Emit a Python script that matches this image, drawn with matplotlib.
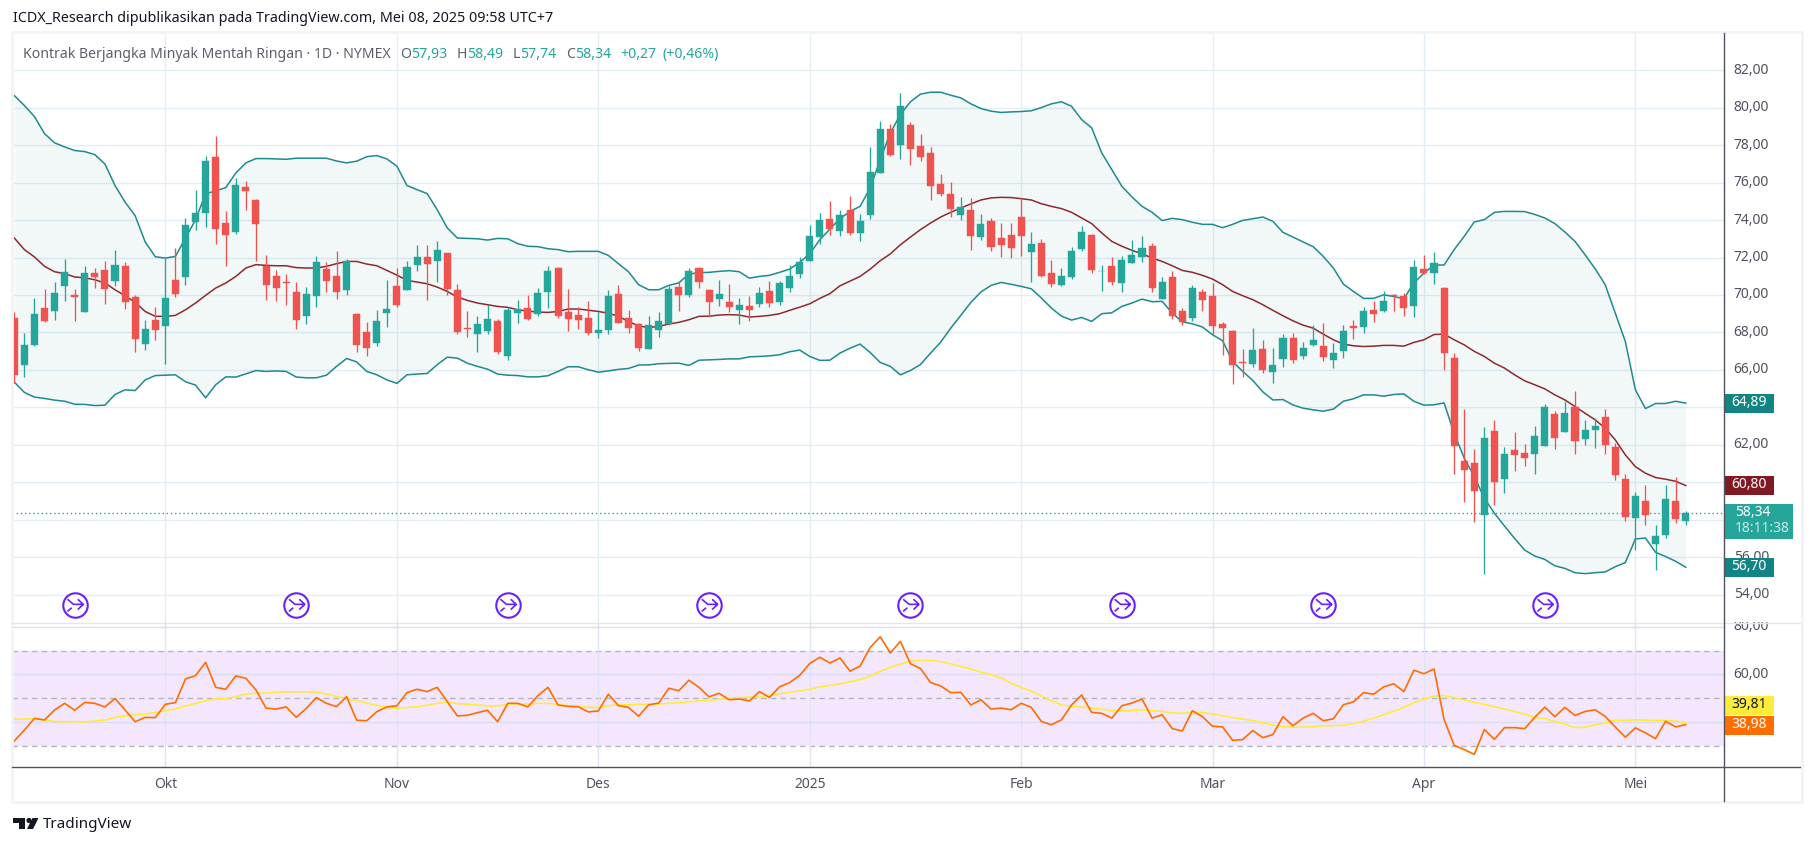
import matplotlib
matplotlib.use("Agg")
import matplotlib.pyplot as plt
from matplotlib.lines import Line2D
from matplotlib.patches import Rectangle, Circle, Polygon
from matplotlib.path import Path
from matplotlib.transforms import Bbox, ScaledTranslation

opens = [68.77,66.27,67.34,69.30,69.16,70.49,70.01,69.11,71.17,71.35,
         70.76,71.56,69.89,67.40,68.66,68.36,70.80,70.98,73.91,74.39,
         77.37,73.84,73.38,75.76,75.07,71.56,71.01,70.71,70.16,68.89,
         69.96,71.38,71.01,70.28,68.98,68.02,67.45,69.05,70.48,70.28,
         71.62,72.03,71.83,72.24,70.28,68.22,67.93,68.09,68.62,66.75,
         69.05,69.32,69.00,70.17,71.46,69.11,68.95,68.78,67.98,68.14,
         70.07,68.78,68.46,67.13,68.14,68.46,70.44,70.01,71.46,70.28,
         69.80,69.64,69.21,69.43,69.53,70.23,69.64,70.39,71.14,71.83,
         73.11,74.07,73.43,74.55,73.33,74.29,76.53,78.88,78.03,79.09,
         77.97,77.60,75.94,75.41,74.29,74.55,73.11,73.97,73.06,73.22,
         74.18,72.31,72.79,71.19,70.55,70.98,72.47,73.22,71.26,71.56,
         70.65,71.72,72.04,72.63,69.80,70.98,69.16,68.78,70.17,69.96,
         68.46,68.09,66.43,66.33,67.13,65.90,66.59,67.72,66.75,67.32,
         67.29,66.54,67.02,68.36,68.30,69.21,69.16,70.01,69.96,69.43,
         71.40,71.19,70.39,66.65,61.15,61.04,58.26,62.75,60.18,61.73,
         61.57,61.52,61.95,63.66,62.70,64.03,62.32,62.80,63.50,61.89,
         60.18,58.10,59.01,56.71,57.19,59.01,57.93]
closes = [65.74,67.34,69.00,68.62,70.10,71.22,69.87,71.17,70.98,70.33,
          71.60,69.64,67.66,68.18,68.14,69.84,70.07,73.74,74.38,77.15,
          73.54,73.22,75.87,75.57,73.81,70.55,70.39,70.66,68.68,70.05,
          71.76,70.76,70.17,71.83,67.34,67.18,68.61,69.25,69.48,71.49,
          72.03,71.67,72.40,70.33,68.04,68.16,68.46,68.73,66.97,69.21,
          69.27,68.73,70.12,71.30,68.89,68.73,68.68,67.98,68.14,69.96,
          68.52,68.25,67.18,68.41,68.62,70.33,70.01,71.30,70.71,69.64,
          70.07,69.37,69.48,69.21,70.12,69.59,70.65,71.03,71.78,73.17,
          74.02,73.54,74.29,73.33,73.97,76.58,78.88,77.49,80.11,77.81,
          77.38,75.84,75.41,74.61,74.71,73.17,73.81,72.58,72.68,72.52,
          73.17,72.74,71.03,70.60,71.03,72.36,73.38,71.35,71.30,70.71,
          71.88,72.15,72.52,70.39,70.71,68.89,68.57,70.39,69.75,68.36,
          68.25,66.27,66.38,67.08,66.01,66.27,67.72,66.54,67.18,67.61,
          66.70,66.90,68.09,68.25,69.16,69.00,69.69,69.95,69.32,71.51,
          71.19,71.72,66.92,61.95,60.67,59.54,62.37,60.02,61.52,61.47,
          61.31,62.48,64.03,62.37,63.71,62.21,62.80,63.02,62.00,60.40,
          58.15,59.28,58.26,57.14,59.12,58.05,58.34]
highs = [69.09,67.97,69.84,70.32,70.69,71.92,70.32,71.56,71.44,71.81,
         72.40,71.78,70.00,68.66,69.35,71.97,72.51,74.11,75.60,77.44,
         78.51,74.48,76.25,76.09,75.12,72.13,71.33,71.12,70.69,70.42,
         72.08,71.76,72.35,71.92,69.03,68.57,69.19,70.80,71.44,71.81,
         72.67,72.67,72.88,72.24,70.60,69.16,68.89,69.48,68.73,69.37,
         69.75,70.01,70.39,71.56,71.51,70.33,69.37,69.69,69.11,70.28,
         70.55,69.21,68.52,68.89,69.11,70.49,70.76,71.46,71.50,70.30,
         70.81,70.60,69.85,69.96,70.44,70.76,70.76,71.62,72.04,73.75,
         74.39,75.03,74.55,75.30,74.34,77.92,79.31,79.15,80.80,79.25,
         78.61,77.92,76.48,76.05,75.25,75.20,74.34,74.13,73.86,73.86,
         75.20,73.38,73.00,71.88,71.46,72.58,73.70,73.27,71.62,72.04,
         72.10,72.95,73.17,72.79,70.98,71.30,69.32,70.55,70.33,70.65,
         68.57,68.14,67.13,68.25,67.61,67.18,67.93,67.98,67.50,68.39,
         68.52,67.43,68.41,68.68,69.37,69.69,70.23,70.03,70.12,71.88,
         72.15,72.31,70.44,66.92,63.92,61.79,62.96,63.34,61.89,62.70,
         62.05,63.02,64.19,63.82,64.35,64.89,63.34,63.43,63.92,62.11,
         60.45,59.49,59.86,57.73,59.86,60.29,58.49]
lows = [65.33,65.65,67.29,68.54,68.68,69.66,68.62,69.11,70.39,69.53,
        70.49,69.27,66.97,67.08,67.61,66.33,69.89,70.55,73.49,73.65,
        72.74,71.56,73.27,74.55,71.83,69.75,69.69,69.48,68.20,68.46,
        69.37,70.17,69.80,70.01,66.97,66.75,67.29,68.30,69.37,70.28,
        71.30,69.75,70.71,70.01,67.93,67.77,66.97,67.93,66.86,66.54,
        68.52,68.68,68.89,69.32,68.78,68.09,68.20,67.88,67.72,67.93,
        68.50,67.98,67.02,67.13,67.77,68.41,69.16,69.91,70.39,68.84,
        69.43,69.11,68.46,68.62,69.37,69.37,69.48,70.17,70.92,71.80,
        72.74,73.22,73.17,73.22,72.90,74.07,76.50,77.44,77.28,76.96,
        77.17,75.09,75.30,74.18,74.02,72.42,72.95,72.36,72.04,71.99,
        72.10,70.71,70.98,70.44,70.49,70.87,72.36,71.19,70.23,70.55,
        70.17,71.70,71.78,70.17,69.78,68.73,68.41,68.62,69.16,67.93,
        66.81,65.26,65.63,66.17,65.85,65.31,66.17,66.38,66.59,67.29,
        66.49,66.11,66.65,67.66,67.98,68.57,69.11,69.16,68.89,68.84,
        71.14,70.60,66.01,60.45,58.96,57.89,55.11,58.80,59.44,60.61,
        60.88,60.45,61.93,61.79,62.68,61.52,62.00,61.84,61.52,60.13,
        57.94,56.39,57.73,55.32,57.03,57.83,57.74]

bb_upper = [80.64,80.11,79.52,78.61,78.12,77.90,77.71,77.65,77.49,76.99,
            75.84,74.96,74.23,72.83,72.04,71.97,72.06,73.04,74.02,75.41,
            75.55,75.73,76.51,77.05,77.28,77.28,77.26,77.24,77.30,77.30,
            77.30,77.30,77.15,77.05,77.14,77.38,77.44,77.26,76.87,75.84,
            75.62,75.41,74.55,73.58,73.04,73.02,73.00,72.93,73.02,73.00,
            72.74,72.60,72.58,72.47,72.42,72.31,72.33,72.33,72.33,72.11,
            71.67,71.24,70.55,70.28,70.28,70.51,70.65,71.12,71.19,71.21,
            71.26,71.30,71.24,70.90,70.99,71.05,71.21,71.38,71.74,72.20,
            72.95,73.52,74.07,74.46,74.73,75.71,77.22,78.65,79.63,80.31,
            80.72,80.82,80.82,80.66,80.52,80.20,79.95,79.81,79.74,79.77,
            79.79,79.83,80.00,80.20,80.31,80.07,79.36,78.92,77.58,76.69,
            75.80,75.23,74.73,74.41,73.97,74.09,74.02,73.88,73.77,73.77,
            73.59,73.77,73.98,74.07,74.16,73.93,73.34,73.09,72.83,72.58,
            72.06,71.44,70.58,70.19,69.82,69.82,70.01,69.92,69.80,70.64,
            71.17,71.60,71.60,72.42,73.13,73.90,74.02,74.41,74.46,74.46,
            74.45,74.30,74.11,73.81,73.36,72.86,72.15,71.40,70.55,69.03,
            67.52,64.94,63.94,64.21,64.21,64.33,64.23]
bb_basis = [73.04,72.42,72.03,71.53,71.24,71.14,70.96,70.92,70.81,70.64,
            70.28,69.96,69.60,69.12,68.86,68.86,68.91,69.21,69.57,69.98,
            70.37,70.64,70.99,71.44,71.62,71.58,71.56,71.56,71.46,71.44,
            71.44,71.53,71.67,71.79,71.79,71.65,71.56,71.31,71.06,70.78,
            70.69,70.60,70.42,70.19,69.89,69.71,69.57,69.48,69.39,69.34,
            69.21,69.14,69.09,69.07,69.12,69.25,69.25,69.19,69.12,69.03,
            68.86,68.59,68.34,68.27,68.32,68.45,68.54,68.68,68.86,68.87,
            68.93,68.95,68.93,68.82,68.86,68.91,69.00,69.18,69.35,69.53,
            69.82,70.07,70.49,70.74,70.99,71.38,71.83,72.19,72.68,73.09,
            73.49,73.84,74.16,74.41,74.64,74.86,75.07,75.18,75.21,75.20,
            75.14,75.07,74.87,74.73,74.61,74.41,74.11,73.81,73.31,72.86,
            72.60,72.38,72.20,71.97,71.79,71.56,71.31,71.21,71.05,70.85,
            70.55,70.19,69.96,69.75,69.48,69.18,68.89,68.62,68.39,68.23,
            67.91,67.61,67.38,67.29,67.25,67.27,67.31,67.31,67.27,67.47,
            67.61,67.89,67.91,67.61,67.34,66.99,66.72,66.36,66.10,65.74,
            65.42,65.21,64.99,64.67,64.40,64.05,63.69,63.34,62.89,62.27,
            61.47,60.84,60.49,60.26,60.17,60.06,59.83]
bb_lower = [65.35,64.80,64.55,64.48,64.39,64.33,64.17,64.16,64.10,64.12,
            64.69,64.94,64.90,65.47,65.70,65.72,65.74,65.37,65.19,64.51,
            65.21,65.63,65.62,65.79,65.97,65.92,65.95,65.92,65.62,65.58,
            65.58,65.72,66.19,66.61,66.43,65.92,65.74,65.47,65.28,65.74,
            65.78,65.81,66.28,66.68,66.63,66.36,66.19,66.04,65.78,65.72,
            65.70,65.63,65.63,65.69,65.92,66.17,66.17,66.01,65.88,65.95,
            66.03,66.08,66.26,66.27,66.33,66.35,66.36,66.24,66.52,66.54,
            66.56,66.59,66.59,66.70,66.72,66.75,66.81,66.97,67.06,66.72,
            66.51,66.52,66.90,67.16,67.38,66.93,66.40,66.19,65.74,65.97,
            66.29,66.90,67.48,68.23,68.91,69.60,70.16,70.51,70.67,70.57,
            70.46,70.33,69.84,69.30,68.87,68.66,68.80,68.59,69.00,69.05,
            69.39,69.57,69.78,69.64,69.66,69.03,68.57,68.46,68.29,67.88,
            67.56,66.45,65.92,65.44,64.83,64.40,64.42,64.13,63.96,63.87,
            63.80,63.91,64.33,64.46,64.67,64.67,64.60,64.69,64.72,64.33,
            64.12,64.14,64.24,62.62,61.29,60.31,59.15,58.35,57.67,57.01,
            56.39,56.07,55.89,55.55,55.41,55.18,55.13,55.18,55.22,55.50,
            55.72,56.98,57.03,56.27,56.04,55.79,55.47]

rsi = [32.1,36.7,41.6,40.9,45.1,47.9,45.0,48.3,47.9,46.4,
       49.9,45.1,40.2,42.0,41.9,47.5,48.2,58.1,59.5,65.1,
       54.6,53.8,59.4,58.4,53.5,45.9,45.5,46.4,42.0,45.8,
       50.3,47.9,46.5,50.7,40.8,40.6,44.4,46.4,46.9,52.4,
       53.8,52.8,54.6,48.6,42.6,42.9,44.0,45.0,40.2,47.9,
       47.9,46.4,51.1,54.6,47.2,46.6,46.5,44.3,44.7,51.7,
       46.9,46.2,42.5,47.3,48.0,54.2,53.2,57.6,54.6,50.6,
       52.1,49.4,49.7,48.9,52.8,50.4,54.8,56.6,59.6,64.6,
       67.2,64.8,66.9,61.4,63.5,71.3,75.8,69.0,73.9,64.5,
       62.5,56.6,55.2,52.4,52.5,47.2,49.4,45.5,45.9,45.2,
       47.9,46.2,40.3,38.9,41.0,47.2,51.4,44.1,43.7,41.7,
       46.9,48.0,49.7,41.7,43.1,37.3,36.3,44.8,42.3,38.3,
       38.0,32.4,32.7,36.5,33.5,34.8,42.3,38.5,41.7,43.7,
       40.6,41.4,47.3,48.5,52.4,51.7,54.8,56.1,52.8,61.8,
       60.3,62.3,41.1,30.3,28.5,26.5,36.9,32.8,37.7,37.7,
       37.3,42.0,46.3,42.3,46.2,42.8,44.5,45.2,42.4,38.0,
       33.7,37.6,35.5,33.1,40.4,38.0,38.98]
rsi_ma = [41.2,41.3,41.5,40.9,40.3,40.2,40.2,40.1,40.5,40.9,
          42.0,42.6,43.1,43.4,44.1,44.8,45.5,46.8,47.9,49.0,
          49.7,49.9,50.7,51.7,52.1,52.2,52.5,52.7,52.7,52.7,
          52.7,51.8,50.8,49.9,49.0,48.0,47.1,46.2,45.8,46.1,
          46.5,47.1,47.9,48.3,47.8,47.5,47.2,46.8,46.8,47.5,
          47.6,47.6,47.9,47.9,47.5,46.9,46.6,46.2,46.2,46.9,
          47.2,47.3,47.5,47.5,47.6,47.9,48.2,48.5,48.9,49.2,
          49.6,50.0,50.3,50.5,50.6,51.3,51.9,52.5,53.1,53.8,
          54.8,55.4,56.1,56.9,57.9,59.4,61.3,63.0,64.4,65.5,
          65.9,65.8,65.4,64.5,63.4,62.3,61.0,59.9,58.5,56.3,
          54.6,53.0,51.0,49.0,47.2,46.6,46.3,45.9,45.4,44.9,
          44.8,44.9,45.1,44.8,44.5,43.9,43.7,44.1,44.1,43.4,
          42.7,42.0,41.3,40.7,39.7,38.7,38.2,37.9,37.9,38.2,
          38.5,38.5,38.7,39.4,40.4,41.7,43.2,44.6,46.2,48.2,
          49.7,51.0,51.1,50.3,49.3,48.3,47.5,46.5,45.5,44.5,
          43.4,42.0,41.5,40.3,39.2,37.7,37.9,38.9,39.7,40.8,
          40.7,41.0,40.8,40.7,40.7,40.4,39.81]

month_idx = [15, 38, 58, 79, 100, 119, 140, 161]
month_labels = ["Okt", "Nov", "Des", "2025", "Feb", "Mar", "Apr", "Mei"]
event_idx = [6, 28, 49, 69, 89, 110, 130, 152]
price_ticks = list(range(54, 84, 2))
price_hidden = [64, 60, 58]
rsi_ticks = [80, 60, 40]
rsi_hidden = [40]
header_vals = [("O", "57,93", 400, 411), ("H", "58,49", 456.5, 467),
               ("L", "57,74", 512.5, 520), ("C", "58,34", 566, 575)]

W, H = 1814, 846
GREEN = "#26a69a"
RED = "#ef5350"
GRID = "#e3edf4"
AXIS = "#50535e"
TEAL = "#138484"
MAROON = "#801922"
plt.rcParams["font.family"] = ["Noto Sans", "DejaVu Sans"]
plt.rcParams["font.size"] = 10


def fx(x):
    return x / W


def fy(y):
    return 1 - y / H


def add_axes_px(x0, y0, x1, y1):
    return fig.add_axes([fx(x0), fy(y1), (x1 - x0) / W, (y1 - y0) / H])


def line_px(x0, y0, x1, y1, color, lw=1.0):
    fig.add_artist(Line2D([fx(x0), fx(x1)], [fy(y0), fy(y1)], color=color, lw=lw,
                          transform=fig.transFigure))


def text_px(x, y, s, **kw):
    fig.text(fx(x), fy(y), s, va="center", **kw)


def box_px(x0, y0, x1, y1, color):
    fig.add_artist(Rectangle((fx(x0), fy(y1)), (x1 - x0) / W, (y1 - y0) / H, fc=color, ec="none",
                             transform=fig.transFigure))


def value_label(a, value, text, bg, fg="white", shift=0):
    y = H - a.transData.transform((0, value))[1] + shift
    box_px(1724, y - 9.5, 1774, y + 9.5, bg)
    text_px(1749, y - 1, text, ha="center", color=fg, fontsize=10)


def raise_labels(a, px):
    for lab in a.get_yticklabels():
        lab.set_transform(lab.get_transform() + ScaledTranslation(0, px / 100, fig.dpi_scale_trans))


fig = plt.figure(figsize=(W / 100, H / 100), dpi=100, facecolor="white")
ax = add_axes_px(12, 33, 1724, 622)
ax_rsi = add_axes_px(12, 622, 1724, 767)

x_left = -0.23
x_right = 169.8
idx = list(range(len(closes)))

# harga
ax.set_xlim(x_left, x_right)
ax.set_ylim(52.55, 83.98)
ax.set_axisbelow(True)
ax.grid(True, color=GRID, lw=1.0)
ax.set_xticks(month_idx)
ax.set_yticks(price_ticks)
ax.set_yticklabels(["" if p in price_hidden else f"{p},00" for p in price_ticks])
ax.yaxis.tick_right()
ax.tick_params(length=0, labelbottom=False, labelcolor=AXIS, pad=7)
raise_labels(ax, 2)

ax.fill_between(idx, bb_lower, bb_upper, color="#138484", alpha=0.05, lw=0)
ax.plot(idx, bb_upper, color="#1f8a8c", lw=1.1)
ax.plot(idx, bb_lower, color="#1f8a8c", lw=1.1)
ax.plot(idx, bb_basis, color="#8c2a2e", lw=1.1)
ax.axhline(closes[-1], color=GREEN, lw=1.0, ls=(0, (1, 2)))

colors = [GREEN if c >= o else RED for o, c in zip(opens, closes)]
ax.vlines(idx, lows, highs, colors=colors, lw=0.95, zorder=3)
ax.bar(idx, [abs(c - o) for o, c in zip(opens, closes)], bottom=[min(o, c) for o, c in zip(opens, closes)],
       width=0.7, color=colors, edgecolor=colors, lw=0.3, zorder=4)

event_y = [53.44] * len(event_idx)
ax.scatter(event_idx, event_y, s=310, facecolors="white", edgecolors="#6a1fff", lw=1.5, zorder=5)
icon = Path([(-0.6, 0.5), (-0.1, 0.08), (0.7, 0.08), (0.25, 0.5), (0.7, 0.08), (0.25, -0.35),
             (-0.6, -0.5), (-0.25, -0.2)],
            [Path.MOVETO, Path.LINETO, Path.LINETO, Path.MOVETO, Path.LINETO, Path.LINETO,
             Path.MOVETO, Path.LINETO])
ax.scatter(event_idx, event_y, marker=icon, s=150, facecolors="none", edgecolors="#6a1fff", lw=1.2, zorder=6)

# RSI
ax_rsi.set_xlim(x_left, x_right)
ax_rsi.set_ylim(21.2, 82.0)
ax_rsi.axhspan(30, 70, color="#f4e7fd", lw=0, zorder=0)
ax_rsi.set_axisbelow(False)
ax_rsi.set_xticks(month_idx)
ax_rsi.yaxis.tick_right()
ax_rsi.set_yticks(rsi_ticks)
ax_rsi.set_yticklabels(["" if r in rsi_hidden else f"{r},00" for r in rsi_ticks])
ax_rsi.grid(True, axis="y", color="#dcdcf2", lw=1.0, zorder=1)
ax_rsi.grid(True, axis="x", color="#dfe3f2", lw=1.0, zorder=1)
ax_rsi.tick_params(length=0, labelbottom=False, labelcolor=AXIS, pad=7)
raise_labels(ax_rsi, 2)
for lev in [70, 50, 30]:
    ax_rsi.axhline(lev, color="#b2b5be", lw=1.0, ls=(0, (4, 3)), zorder=2)
ax_rsi.plot(idx, rsi_ma, color="#ffeb3b", lw=1.2, zorder=3)
ax_rsi.plot(idx, rsi, color="#ff6d00", lw=1.2, zorder=4)
clip = Bbox([[1724, H - 767], [1800, H - 622]])
for lab in ax_rsi.get_yticklabels():
    lab.set_clip_on(True)
    lab.set_clip_box(clip)

for a in (ax, ax_rsi):
    for sp in a.spines.values():
        sp.set_visible(False)

# bingkai dan garis pemisah
fig.add_artist(Rectangle((fx(11.5), fy(802)), 1790 / W, 770 / H, fc="none", ec="#f2f3f5", lw=2.0,
                         transform=fig.transFigure))
line_px(12, 622.5, 1800, 622.5, "#e3e6ec")
line_px(12, 767, 1800, 767, AXIS)
line_px(1724, 33, 1724, 801, AXIS)

for m, label in zip(month_idx, month_labels):
    xp = 12 + (m - x_left) / (x_right - x_left) * 1712
    if label == "2025":
        text_px(xp, 784, label, ha="center", color=AXIS, fontweight="bold")
    else:
        text_px(xp, 784, label, ha="center", color=AXIS)

# label nilai
value_label(ax, bb_upper[-1], "64,89", TEAL)
value_label(ax, bb_basis[-1], "60,80", MAROON)
value_label(ax, bb_lower[-1], "56,70", TEAL)
box_px(1724, 504, 1793, 539, GREEN)
text_px(1735, 512, "58,34", color="white")
text_px(1735, 529, "18:11:38", color="#c9ebe7")
value_label(ax_rsi, rsi_ma[-1], "39,81", "#ffeb3b", fg="#131722", shift=-17)
value_label(ax_rsi, rsi[-1], "38,98", "#ff6d00", shift=0.5)

# teks atas
text_px(13, 18.5, "ICDX_Research dipublikasikan pada TradingView.com, Mei 08, 2025 09:58 UTC+7",
        color="#131722", fontsize=10.3)
text_px(23, 54.5, "Kontrak Berjangka Minyak Mentah Ringan · 1D · NYMEX", color="#5d606b", fontsize=10.15)
for name, val, x_name, x_val in header_vals:
    text_px(x_name, 54.5, name, color="#5d606b", fontsize=10.15)
    text_px(x_val, 54.5, val, color=GREEN, fontsize=10.15)
text_px(620.5, 54.5, "+0,27", color=GREEN, fontsize=10.15)
text_px(662.5, 54.5, "(+0,46%)", color=GREEN, fontsize=10.15)

# logo
logo = "#131722"
fig.add_artist(Polygon([(fx(13), fy(818)), (fx(25), fy(818)), (fx(25), fy(829)), (fx(19), fy(829)),
                        (fx(19), fy(823)), (fx(13), fy(823))], fc=logo, ec="none", transform=fig.transFigure))
fig.add_artist(Polygon([(fx(38.5), fy(818)), (fx(32.5), fy(818)), (fx(27), fy(829)), (fx(33), fy(829))],
                       fc=logo, ec="none", transform=fig.transFigure))
dot = Circle((29, H - 820.5), 2.6, fc=logo, ec="none", transform=None)
fig.add_artist(dot)
text_px(42.5, 824, "TradingView", color=logo, fontsize=11)

fig.savefig("out.png", dpi=100, facecolor="white")
